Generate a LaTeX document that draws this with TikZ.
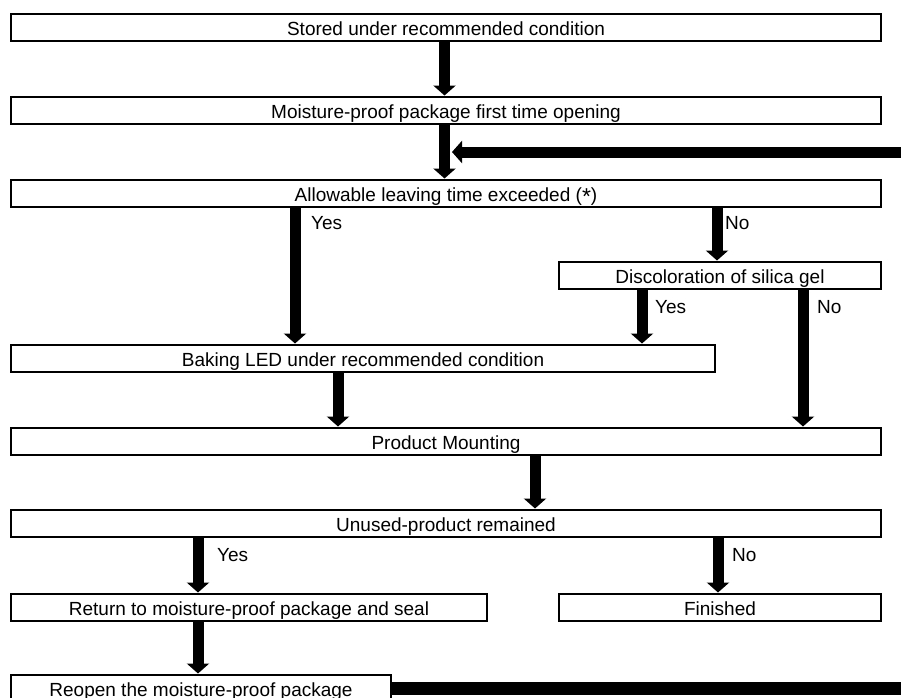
\documentclass[tikz,border=0pt]{standalone}
\usepackage{fontspec}
\setmainfont{Liberation Sans}
\usetikzlibrary{arrows.meta}
\begin{document}
\begin{tikzpicture}[x=1pt,y=-1pt,
  box/.style={draw, line width=2pt, minimum height=27pt, inner sep=0pt, text height=18pt, text depth=2pt, font=\fontsize{19}{23}\selectfont},
  flow/.style={line width=11pt, -{Triangle[width=22pt,length=10pt]}},
  lbl/.style={anchor=west, inner sep=0pt, font=\fontsize{19}{23}\selectfont}]
\useasboundingbox (0,0) rectangle (901,697);
\clip (0,0) rectangle (901,697);
% boxes
\node[box, minimum width=870] (b1) at (446,27) {Stored under recommended condition};
\node[box, minimum width=870] (b2) at (446,110) {Moisture-proof package first time opening};
\node[box, minimum width=870] (b3) at (446,193) {Allowable leaving time exceeded (\raisebox{-0.35ex}{\fontsize{23}{23}\selectfont *})};
\node[box, minimum width=322] (disc) at (720,275) {Discoloration of silica gel};
\node[box, minimum width=704] (bake) at (363,358) {Baking LED under recommended condition};
\node[box, minimum width=870] (pm) at (446,441) {Product Mounting};
\node[box, minimum width=870] (un) at (446,523) {Unused-product remained};
\node[box, minimum width=476] (ret) at (249,607) {Return to moisture-proof package and seal};
\node[box, minimum width=322] (fin) at (720,607) {Finished};
\node[box, minimum width=380] (reo) at (201,688) {Reopen the moisture-proof package};
% columns
\coordinate (c0) at (444.5,0);
\coordinate (cY1) at (295,0);
\coordinate (cN1) at (717,0);
\coordinate (cY2) at (642,0);
\coordinate (cN2) at (803,0);
\coordinate (cB) at (338,0);
\coordinate (cP) at (535,0);
\coordinate (cR) at (198,0);
\coordinate (cF) at (718,0);
% arrows
\draw[flow] (b1.south -| c0) -- (b2.north -| c0);
\draw[flow] (b2.south -| c0) -- (b3.north -| c0);
\draw[flow] (b3.south -| cY1) -- (bake.north -| cY1);
\draw[flow] (b3.south -| cN1) -- (disc.north -| cN1);
\draw[flow] (disc.south -| cY2) -- (bake.north -| cY2);
\draw[flow] (disc.south -| cN2) -- (pm.north -| cN2);
\draw[flow] (bake.south -| cB) -- (pm.north -| cB);
\draw[flow] (pm.south -| cP) -- (un.north -| cP);
\draw[flow] (un.south -| cR) -- (ret.north -| cR);
\draw[flow] (un.south -| cF) -- (fin.north -| cF);
\draw[flow] (ret.south -| cR) -- (reo.north -| cR);
% feedback loop
\coordinate (lb) at (930,688);
\coordinate (lt) at (930,152);
\coordinate (join) at (452,152);
\draw[line width=13pt] (reo.east) -- (lb);
\draw[flow] (lb) -- (lt) -- (join);
% labels
\node[lbl] (y1) at (311,223) {Yes};
\node[lbl] (n1) at (725,223) {No};
\node[lbl] (y2) at (655,307) {Yes};
\node[lbl] (n2) at (817,307) {No};
\node[lbl] (y3) at (217,555) {Yes};
\node[lbl] (n3) at (732,555) {No};
\end{tikzpicture}
\end{document}
